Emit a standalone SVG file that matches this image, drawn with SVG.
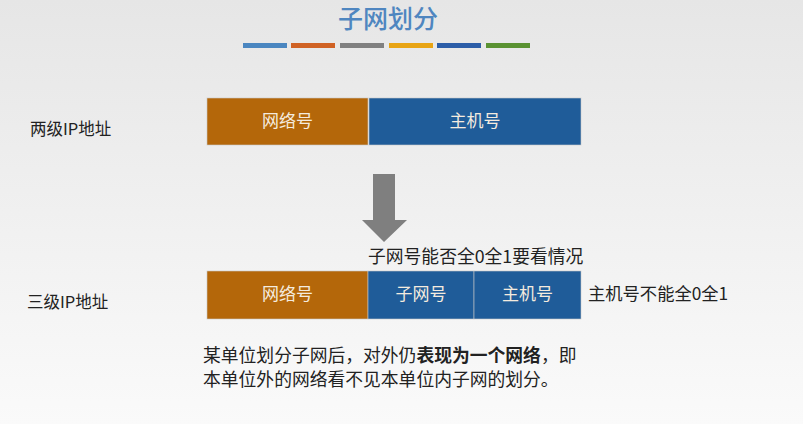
<svg xmlns="http://www.w3.org/2000/svg" width="803" height="424" viewBox="0 0 803 424">
<defs>
<linearGradient id="bg" x1="0" y1="0" x2="0" y2="1">
<stop offset="0" stop-color="#e6e6e6"/>
<stop offset="1" stop-color="#fafafa"/>
</linearGradient>
</defs>
<style>
text{font-family:"Noto Sans CJK SC","Liberation Sans",sans-serif}
.lbl{font-size:16.5px;fill:#222}
.in{font-size:17px;fill:#f4ebdf;text-anchor:middle}
.or{fill:#b4670a;stroke:#c8c8c8;stroke-width:0.6}
.bl{fill:#1f5c99;stroke:#c8c8c8;stroke-width:0.6}
.para{font-size:17.8px;fill:#222}
</style>
<rect width="803" height="424" fill="url(#bg)"/>
<g id="title">
<text x="388" y="28" font-size="25" font-weight="500" fill="#4f86c0" text-anchor="middle">子网划分</text>
<rect x="243" y="43" width="44" height="5" fill="#4a86c0"/>
<rect x="291" y="43" width="44" height="5" fill="#d06224"/>
<rect x="340" y="43" width="44" height="5" fill="#808080"/>
<rect x="389" y="43" width="44" height="5" fill="#e8a414"/>
<rect x="437" y="43" width="44" height="5" fill="#2c5ea8"/>
<rect x="486" y="43" width="44" height="5" fill="#5a9232"/>
</g>
<g id="label-two"><text class="lbl" x="30" y="135">两级IP地址</text></g>
<g id="two-level">
<rect class="or" x="207" y="98" width="161" height="47"/>
<text class="in" x="287.5" y="127">网络号</text>
<rect class="bl" x="369" y="98" width="212" height="47"/>
<text class="in" x="475" y="127">主机号</text>
</g>
<g id="connectors">
<polygon points="373,174 395,174 395,220 407,220 384,242 362,220 373,220" fill="#7f7f7f"/>
</g>
<g id="note-subnet"><text x="368" y="263" font-size="17.8" fill="#222">子网号能否全0全1要看情况</text></g>
<g id="label-three"><text class="lbl" x="27" y="308">三级IP地址</text></g>
<g id="three-level">
<rect class="or" x="207" y="271" width="161" height="48"/>
<text class="in" x="287.5" y="300">网络号</text>
<rect class="bl" x="368" y="271" width="106" height="48"/>
<text class="in" x="421" y="300">子网号</text>
<rect class="bl" x="474" y="271" width="107" height="48"/>
<text class="in" x="527.5" y="300">主机号</text>
</g>
<g id="note-host"><text x="588" y="300" font-size="17.3" fill="#222">主机号不能全0全1</text></g>
<g id="paragraph">
<text class="para" x="203" y="362">某单位划分子网后，对外仍<tspan font-weight="bold">表现为一个网络</tspan>，即</text>
<text class="para" x="203" y="386">本单位外的网络看不见本单位内子网的划分。</text>
</g>
</svg>
